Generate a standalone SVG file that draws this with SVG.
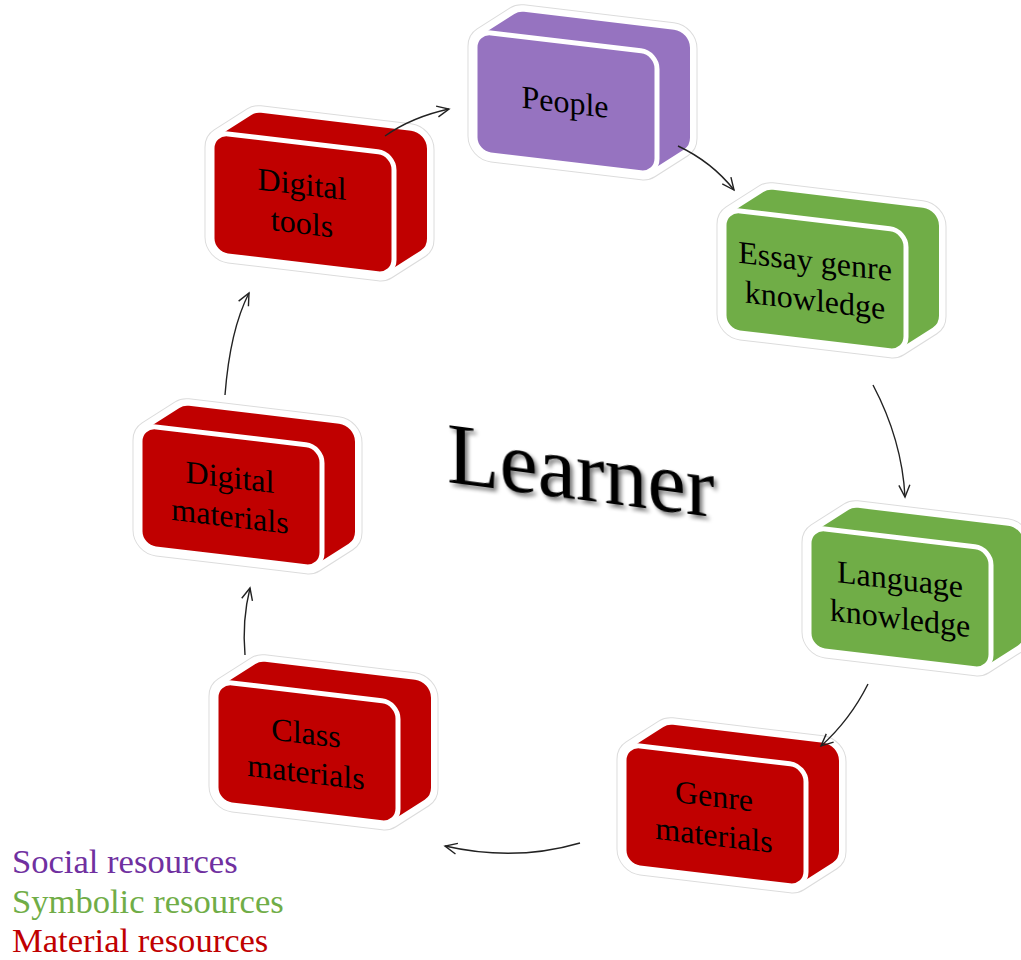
<svg xmlns="http://www.w3.org/2000/svg" width="1021" height="960" viewBox="0 0 1021 960">
<defs>
  <style>
    .hullo{stroke:#dcdcdc;stroke-width:15;stroke-linejoin:round;fill:#dcdcdc}
    .hullw{stroke:#ffffff;stroke-width:13;stroke-linejoin:round;fill:#ffffff}
    .front{stroke:#ffffff;stroke-width:5}
    .lbl{font-family:"Liberation Serif","Times New Roman",serif;font-size:32px;fill:#000;text-anchor:middle}
    .red{fill:#C00000}
    .green{fill:#70AD47}
    .purple{fill:#9673C0}
    .conn{fill:none;stroke:#222;stroke-width:1.4}
    .legend{font-family:"Liberation Serif","Times New Roman",serif;font-size:34.6px}
  </style>
  <path id="hull" d="M0,16 A16 16 0 0 1 6.34,3.25 L39.34,-21.75 A16 16 0 0 1 49,-25 L199,-25 A16 16 0 0 1 215,-9 L215,81 A16 16 0 0 1 208.66,93.75 L175.66,118.75 A16 16 0 0 1 166,122 L16,122 A16 16 0 0 1 0,106 Z"/>
  <marker id="arr" markerWidth="16" markerHeight="14" refX="0" refY="0" viewBox="-14 -7 16 14" orient="auto" markerUnits="userSpaceOnUse">
    <path d="M-12,-5.5 L0,0 L-12,5.5" fill="none" stroke="#222" stroke-width="1.4"/>
  </marker>
  <filter id="shadow" x="-10%" y="-20%" width="130%" height="150%">
    <feGaussianBlur in="SourceAlpha" stdDeviation="2"/>
    <feOffset dx="3" dy="3" result="b"/>
    <feComponentTransfer><feFuncA type="linear" slope="0.55"/></feComponentTransfer>
    <feMerge><feMergeNode/><feMergeNode in="SourceGraphic"/></feMerge>
  </filter>
</defs>
<rect width="1021" height="960" fill="#ffffff"/>

<g id="node-people" transform="translate(475,31) skewY(6.8)">
  <use href="#hull" class="hullo"/><use href="#hull" class="hullw"/>
  <use href="#hull" class="purple"/>
  <rect class="front purple" x="0" y="0" width="182" height="122" rx="16"/>
  <text class="lbl" x="90" y="71">People</text>
</g>

<g id="node-digital-tools" transform="translate(212,132) skewY(6.8)">
  <use href="#hull" class="hullo"/><use href="#hull" class="hullw"/>
  <use href="#hull" class="red"/>
  <rect class="front red" x="0" y="0" width="182" height="122" rx="16"/>
  <text class="lbl" x="90" y="52">Digital</text>
  <text class="lbl" x="90" y="91">tools</text>
</g>

<g id="node-essay" transform="translate(724,209) skewY(6.8)">
  <use href="#hull" class="hullo"/><use href="#hull" class="hullw"/>
  <use href="#hull" class="green"/>
  <rect class="front green" x="0" y="0" width="182" height="122" rx="16"/>
  <text class="lbl" x="91" y="52">Essay genre</text>
  <text class="lbl" x="91" y="91">knowledge</text>
</g>

<g id="node-digital-materials" transform="translate(140,425) skewY(6.8)">
  <use href="#hull" class="hullo"/><use href="#hull" class="hullw"/>
  <use href="#hull" class="red"/>
  <rect class="front red" x="0" y="0" width="182" height="122" rx="16"/>
  <text class="lbl" x="90" y="52">Digital</text>
  <text class="lbl" x="90" y="91">materials</text>
</g>

<g id="node-language" transform="translate(809,527) skewY(6.8)">
  <use href="#hull" class="hullo"/><use href="#hull" class="hullw"/>
  <use href="#hull" class="green"/>
  <rect class="front green" x="0" y="0" width="182" height="122" rx="16"/>
  <text class="lbl" x="91" y="52">Language</text>
  <text class="lbl" x="91" y="91">knowledge</text>
</g>

<g id="node-class" transform="translate(216,681) skewY(6.8)">
  <use href="#hull" class="hullo"/><use href="#hull" class="hullw"/>
  <use href="#hull" class="red"/>
  <rect class="front red" x="0" y="0" width="182" height="122" rx="16"/>
  <text class="lbl" x="90" y="52">Class</text>
  <text class="lbl" x="90" y="91">materials</text>
</g>

<g id="node-genre" transform="translate(624,744) skewY(6.8)">
  <use href="#hull" class="hullo"/><use href="#hull" class="hullw"/>
  <use href="#hull" class="red"/>
  <rect class="front red" x="0" y="0" width="182" height="122" rx="16"/>
  <text class="lbl" x="90" y="52">Genre</text>
  <text class="lbl" x="90" y="91">materials</text>
</g>

<g id="connectors">
  <path class="conn" d="M385,136 Q412,117 449,109" marker-end="url(#arr)"/>
  <path class="conn" d="M678,146 Q712,162 734,190" marker-end="url(#arr)"/>
  <path class="conn" d="M873,385 Q902,440 905,497" marker-end="url(#arr)"/>
  <path class="conn" d="M868,684 Q850,720 821,746" marker-end="url(#arr)"/>
  <path class="conn" d="M580,843 Q515,862 445,846" marker-end="url(#arr)"/>
  <path class="conn" d="M245,655 Q242,620 250,588" marker-end="url(#arr)"/>
  <path class="conn" d="M225,395 Q230,330 249,293" marker-end="url(#arr)"/>
</g>

<g id="learner" transform="translate(447,482) skewY(7.5)" filter="url(#shadow)">
  <text x="0" y="0" font-family="'Liberation Serif','Times New Roman',serif" font-size="86" fill="#000">Learner</text>
</g>

<g id="legend">
  <text class="legend" x="12" y="873" fill="#7030A0">Social resources</text>
  <text class="legend" x="12" y="913" fill="#70AD47">Symbolic resources</text>
  <text class="legend" x="12" y="952" fill="#C00000">Material resources</text>
</g>
</svg>
